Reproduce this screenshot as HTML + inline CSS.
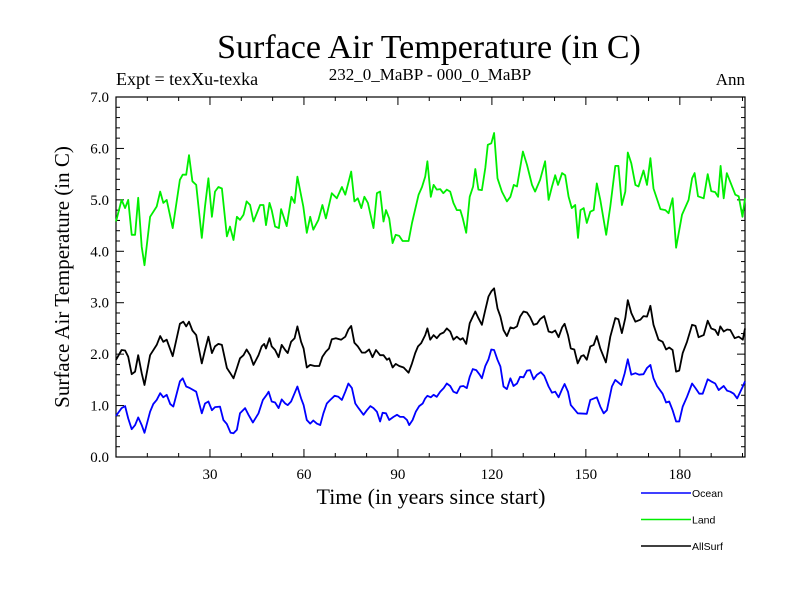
<!DOCTYPE html>
<html><head><meta charset="utf-8"><style>
html,body{margin:0;padding:0;background:#fff;}
svg{display:block;}
.serif{font-family:"Liberation Serif",serif;}
.sans{font-family:"Liberation Sans",sans-serif;}
</style></head><body>
<svg id="chart" width="800" height="600" viewBox="0 0 800 600">
<text class="serif" x="429" y="58" font-size="34" text-anchor="middle">Surface Air Temperature (in C)</text>
<text class="serif" x="116" y="85" font-size="18">Expt = texXu-texka</text>
<text class="serif" x="430" y="80" font-size="17" text-anchor="middle">232_0_MaBP - 000_0_MaBP</text>
<text class="serif" x="745" y="85" font-size="17" text-anchor="end">Ann</text>
<text class="serif" x="431" y="504" font-size="22" text-anchor="middle">Time (in years since start)</text>
<text class="serif" x="0" y="0" font-size="21" text-anchor="middle" transform="translate(69,277) rotate(-90)">Surface Air Temperature (in C)</text>
<g id="axes"></g>
<g id="series"></g>
<g id="legend"></g>
</svg>
<script>
const yTicks=[0,1,2,3,4,5,6,7];
const yTickLabels=["0.0","1.0","2.0","3.0","4.0","5.0","6.0","7.0"];
const xTicks=[30,60,90,120,150,180];
const xTickLabels=["30","60","90","120","150","180"];
const seriesNames=["Ocean","Land","AllSurf"];
const landYears=[0,1.8,2.9,3.9,5.0,6.1,7.1,8.2,9.1,10.9,13.0,14.1,15.1,16.2,18.1,20.4,21.3,22.4,23.3,24.4,25.6,27.4,28.4,29.5,30.6,31.6,32.7,33.8,35.4,36.4,37.5,38.6,39.6,40.7,41.7,42.8,43.9,46.0,47.1,47.9,49.0,49.7,50.8,52.0,52.7,54.5,56.0,57.0,57.9,59.8,60.9,62.0,63.0,64.6,65.9,67.0,68.9,70.5,72.1,73.2,75.1,76.1,77.2,78.3,79.3,80.4,82.2,83.3,84.3,85.4,86.2,87.2,88.3,89.3,90.4,91.5,93.4,94.5,96.6,97.7,98.7,99.4,100.5,101.4,102.4,103.5,104.5,105.6,106.7,107.7,108.8,109.9,110.7,111.8,112.9,114.0,114.7,115.7,116.8,117.9,118.7,119.8,120.7,121.8,123.2,124.8,125.9,127.0,128.0,129.9,131.2,132.8,133.8,135.4,137.0,138.1,139.2,140.2,141.1,142.4,143.4,144.5,145.5,146.6,147.5,148.3,149.3,150.3,151.4,152.5,153.5,154.6,156.5,157.8,159.4,160.4,161.5,162.6,163.4,164.5,165.8,166.8,168.4,169.5,170.6,171.6,173.8,175.4,176.4,177.7,178.8,180.7,182.8,183.9,184.7,185.8,187.6,188.9,190.0,191.3,192.2,193.0,194.0,195.0,197.7,198.8,200.0,200.8];
const landValues=[4.58,5.0,4.84,5.0,4.32,4.32,5.04,4.09,3.73,4.67,4.87,5.16,4.94,5.0,4.45,5.39,5.49,5.49,5.87,5.36,5.29,4.26,4.87,5.42,4.67,5.16,5.25,5.22,4.29,4.48,4.22,4.67,4.61,4.71,4.97,4.9,4.58,4.9,4.9,4.51,4.94,4.8,4.48,4.45,4.82,4.49,5.06,4.94,5.45,4.87,4.36,4.67,4.42,4.61,4.9,4.64,5.13,5.03,5.25,5.1,5.55,4.97,5.03,4.84,5.06,4.94,4.45,5.13,5.16,4.58,4.8,4.64,4.16,4.32,4.3,4.2,4.2,4.55,5.1,5.25,5.45,5.75,5.06,5.29,5.2,5.21,5.13,5.2,5.16,4.94,4.8,4.8,4.64,4.36,5.06,5.26,5.6,5.2,5.19,5.62,6.07,6.1,6.3,5.42,5.16,4.97,5.06,5.29,5.26,5.94,5.68,5.29,5.16,5.39,5.75,5.0,5.26,5.48,5.29,5.52,5.48,5.06,4.84,4.9,4.26,4.8,4.84,4.55,4.77,4.8,5.32,5.0,4.32,4.87,5.66,5.66,4.9,5.16,5.92,5.71,5.29,5.26,5.57,5.29,5.81,5.22,4.82,4.8,4.74,5.03,4.07,4.71,5.0,5.42,5.52,5.07,5.03,5.5,5.17,5.15,5.06,5.66,5.03,5.52,5.1,5.07,4.67,5.03];
const allYears=[0,1.8,2.9,3.9,5.0,6.1,7.1,8.2,9.1,10.9,13.0,14.1,15.1,16.2,18.1,20.4,21.5,22.4,23.3,24.4,25.6,27.4,28.4,29.5,30.6,31.6,32.7,33.8,35.4,36.4,37.5,38.6,39.6,40.7,41.7,42.8,43.9,45.5,46.5,47.3,47.9,49.0,49.7,50.8,51.9,52.9,54.0,54.8,55.9,57.0,57.9,59.1,59.9,60.9,62.0,63.4,64.9,65.9,67.0,68.0,68.9,70.2,71.9,73.2,74.2,75.1,76.1,77.2,78.5,79.6,80.8,81.9,83.0,84.3,85.4,86.5,87.2,88.3,89.3,90.4,91.8,93.4,94.5,95.5,96.4,97.4,98.7,99.4,100.3,101.4,102.4,103.5,104.6,105.6,106.7,107.7,108.8,109.9,110.7,111.8,112.9,113.9,114.7,115.7,116.8,117.9,118.9,119.8,120.7,121.8,122.7,123.7,124.8,125.9,126.9,128.0,129.0,130.1,131.2,132.2,133.3,134.4,135.4,136.7,138.1,139.2,140.2,141.3,142.4,143.2,144.3,145.2,146.3,147.4,148.5,149.3,150.3,151.4,152.5,153.5,154.6,156.4,157.8,159.4,160.4,161.5,162.6,163.4,164.5,165.8,167.4,168.4,169.5,170.6,171.6,173.2,174.5,175.6,176.6,177.7,178.8,179.8,180.9,182.3,183.9,185.0,186.0,187.6,188.9,190.0,191.3,192.2,192.9,194.0,195.1,196.1,197.5,198.8,200.1,200.8];
const allValues=[1.89,2.08,2.07,1.95,1.61,1.66,1.98,1.63,1.40,1.98,2.18,2.35,2.24,2.28,1.96,2.59,2.63,2.54,2.63,2.46,2.37,1.82,2.08,2.34,2.02,2.15,2.20,2.18,1.73,1.64,1.53,1.73,1.92,1.98,2.09,1.98,1.79,1.98,2.15,2.20,2.11,2.31,2.15,2.08,1.94,2.18,2.08,2.02,2.24,2.31,2.54,2.24,2.11,1.74,1.79,1.77,1.77,1.95,2.05,2.11,2.29,2.31,2.28,2.34,2.48,2.55,2.22,2.15,2.03,2.03,2.09,1.94,2.08,1.98,1.98,1.89,1.92,1.74,1.81,1.77,1.74,1.64,1.82,2.02,2.15,2.21,2.37,2.50,2.28,2.37,2.31,2.39,2.42,2.50,2.44,2.28,2.34,2.28,2.31,2.20,2.60,2.73,2.83,2.70,2.57,2.86,3.12,3.22,3.28,2.89,2.73,2.47,2.35,2.52,2.50,2.54,2.73,2.83,2.81,2.72,2.57,2.59,2.68,2.74,2.44,2.42,2.46,2.33,2.52,2.59,2.37,2.11,2.09,1.82,1.96,1.98,1.89,2.15,2.18,2.35,2.11,1.84,2.34,2.70,2.68,2.41,2.70,3.05,2.80,2.63,2.67,2.74,2.73,2.94,2.57,2.28,2.24,2.09,2.13,2.08,1.66,1.68,2.02,2.24,2.57,2.55,2.33,2.37,2.65,2.50,2.47,2.37,2.54,2.44,2.48,2.47,2.31,2.34,2.28,2.50];
const oceanYears=[0,1.8,2.9,3.9,5.0,6.1,7.1,8.2,9.1,10.9,11.9,13.0,14.1,15.1,16.2,17.3,18.3,20.4,21.3,22.4,23.6,25.6,27.4,28.4,29.5,30.6,31.6,33.2,34.3,35.4,36.6,37.5,38.6,39.6,41.2,42.3,43.7,45.5,46.9,48.1,48.7,49.7,50.8,51.9,52.9,54.0,54.8,55.9,57.0,57.9,59.1,59.9,60.9,62.0,63.0,64.1,65.2,66.2,67.3,68.4,69.8,71.0,72.1,73.2,74.2,75.3,76.4,77.4,79.0,80.1,81.2,82.2,83.3,84.3,85.1,86.2,87.2,88.6,89.7,90.7,91.8,92.9,93.6,94.7,95.7,96.8,97.9,98.7,99.4,100.5,101.4,102.4,103.5,104.6,105.6,106.7,107.7,108.8,109.9,110.9,112.0,112.9,113.9,115.0,116.1,116.8,117.9,118.9,119.8,120.7,121.8,122.7,123.7,124.8,125.9,126.9,128.0,129.0,130.1,131.2,132.2,133.3,134.4,135.6,136.7,138.1,139.2,140.2,141.3,142.4,143.2,144.3,145.2,146.3,147.4,150.3,151.4,153.5,154.6,155.7,156.7,158.3,159.4,161.3,162.4,163.4,164.5,165.8,167.0,168.4,169.5,170.6,171.6,172.7,174.5,175.6,176.6,177.7,178.8,179.8,180.9,182.3,183.9,185.0,186.2,187.3,188.9,190.0,191.3,192.4,194.0,195.1,196.1,197.2,198.3,200.1,200.8];
const oceanValues=[0.80,0.95,0.99,0.75,0.54,0.62,0.77,0.62,0.47,0.88,1.03,1.11,1.24,1.16,1.21,1.03,0.98,1.47,1.53,1.37,1.34,1.27,0.85,1.04,1.08,0.91,0.97,0.98,0.72,0.64,0.47,0.46,0.53,0.85,0.95,0.82,0.67,0.85,1.11,1.21,1.27,1.08,1.06,0.95,1.12,1.04,1.01,1.08,1.24,1.37,1.14,1.01,0.72,0.65,0.71,0.65,0.62,0.85,1.04,1.11,1.19,1.17,1.11,1.27,1.43,1.34,1.04,0.95,0.82,0.91,0.99,0.95,0.88,0.69,0.86,0.85,0.72,0.78,0.82,0.78,0.78,0.72,0.62,0.72,0.88,0.99,1.04,1.14,1.19,1.16,1.21,1.17,1.27,1.34,1.43,1.38,1.27,1.24,1.37,1.38,1.34,1.56,1.71,1.69,1.60,1.53,1.77,1.90,2.09,2.08,1.89,1.76,1.37,1.32,1.53,1.38,1.43,1.56,1.55,1.68,1.69,1.51,1.60,1.65,1.58,1.37,1.25,1.27,1.16,1.32,1.42,1.27,1.01,0.93,0.85,0.84,1.11,1.16,0.98,0.85,0.91,1.37,1.50,1.40,1.63,1.90,1.60,1.63,1.60,1.61,1.73,1.79,1.53,1.38,1.23,1.06,1.08,0.91,0.69,0.69,0.98,1.17,1.43,1.34,1.23,1.23,1.51,1.47,1.43,1.30,1.38,1.29,1.27,1.23,1.14,1.37,1.47];

const L=116,R=745,T=97,B=457,XMAX=200.8,YMAX=7;
const NS="http://www.w3.org/2000/svg";
function xs(t){return L+(R-L)*t/XMAX;}
function ys(v){return B-(B-T)*v/YMAX;}
function mk(tag,attrs,parent){const e=document.createElementNS(NS,tag);for(const k in attrs)e.setAttribute(k,attrs[k]);parent.appendChild(e);return e;}
const axes=document.getElementById('axes');
const frame=mk('rect',{x:L,y:T,width:R-L,height:B-T,fill:'none',stroke:'#000','stroke-width':1.2},axes);


for(let i=0;i<=35;i++){
  const v=i*0.2,y=ys(v),len=(i%5===0)?8:4;
  const t1=mk('line',{x1:L,y1:y,x2:L+len,y2:y,stroke:'#000','stroke-width':1},axes);
  
  
  const t2=mk('line',{x1:R,y1:y,x2:R-len,y2:y,stroke:'#000','stroke-width':1},axes);
  
  
}
yTicks.forEach((v,i)=>{
  const tx=mk('text',{x:L-7,y:ys(v)+5,'font-size':15,'text-anchor':'end','class':'serif'},axes);
  tx.textContent=yTickLabels[i];
  
  
});
for(let t=10;t<XMAX;t+=10){
  const len=(t%30===0)?8:4,x=xs(t);
  const a=mk('line',{x1:x,y1:B,x2:x,y2:B-len,stroke:'#000','stroke-width':1},axes);
  
  
  const b=mk('line',{x1:x,y1:T,x2:x,y2:T+len,stroke:'#000','stroke-width':1},axes);
  
  
}
xTicks.forEach((t,i)=>{
  const tx=mk('text',{x:xs(t),y:B+22,'font-size':15,'text-anchor':'middle','class':'serif'},axes);
  tx.textContent=xTickLabels[i];
  
  
});
const sg=document.getElementById('series');
function line(years,vals,color,name){
  const d=years.map((t,i)=>(i?'L':'M')+xs(t).toFixed(1)+','+ys(vals[i]).toFixed(1)).join('');
  const p=mk('path',{d:d,fill:'none',stroke:color,'stroke-width':1.8,'stroke-linejoin':'round'},sg);
  
  
}
line(landYears,landValues,'#00ee00','land-line');
line(allYears,allValues,'#000000','allsurf-line');
line(oceanYears,oceanValues,'#0000ff','ocean-line');
const lg=document.getElementById('legend');
const colors=['#0000ff','#00ee00','#000000'];
seriesNames.forEach((n,i)=>{
  const y=493+i*26.5;
  const l=mk('line',{x1:641,y1:y,x2:691,y2:y,stroke:colors[i],'stroke-width':1.5},lg);
  
  
  const tx=mk('text',{x:692,y:y+4,'font-size':10.5,'class':'sans'},lg);
  tx.textContent=n;
  
  
});
</script>
</body></html>
